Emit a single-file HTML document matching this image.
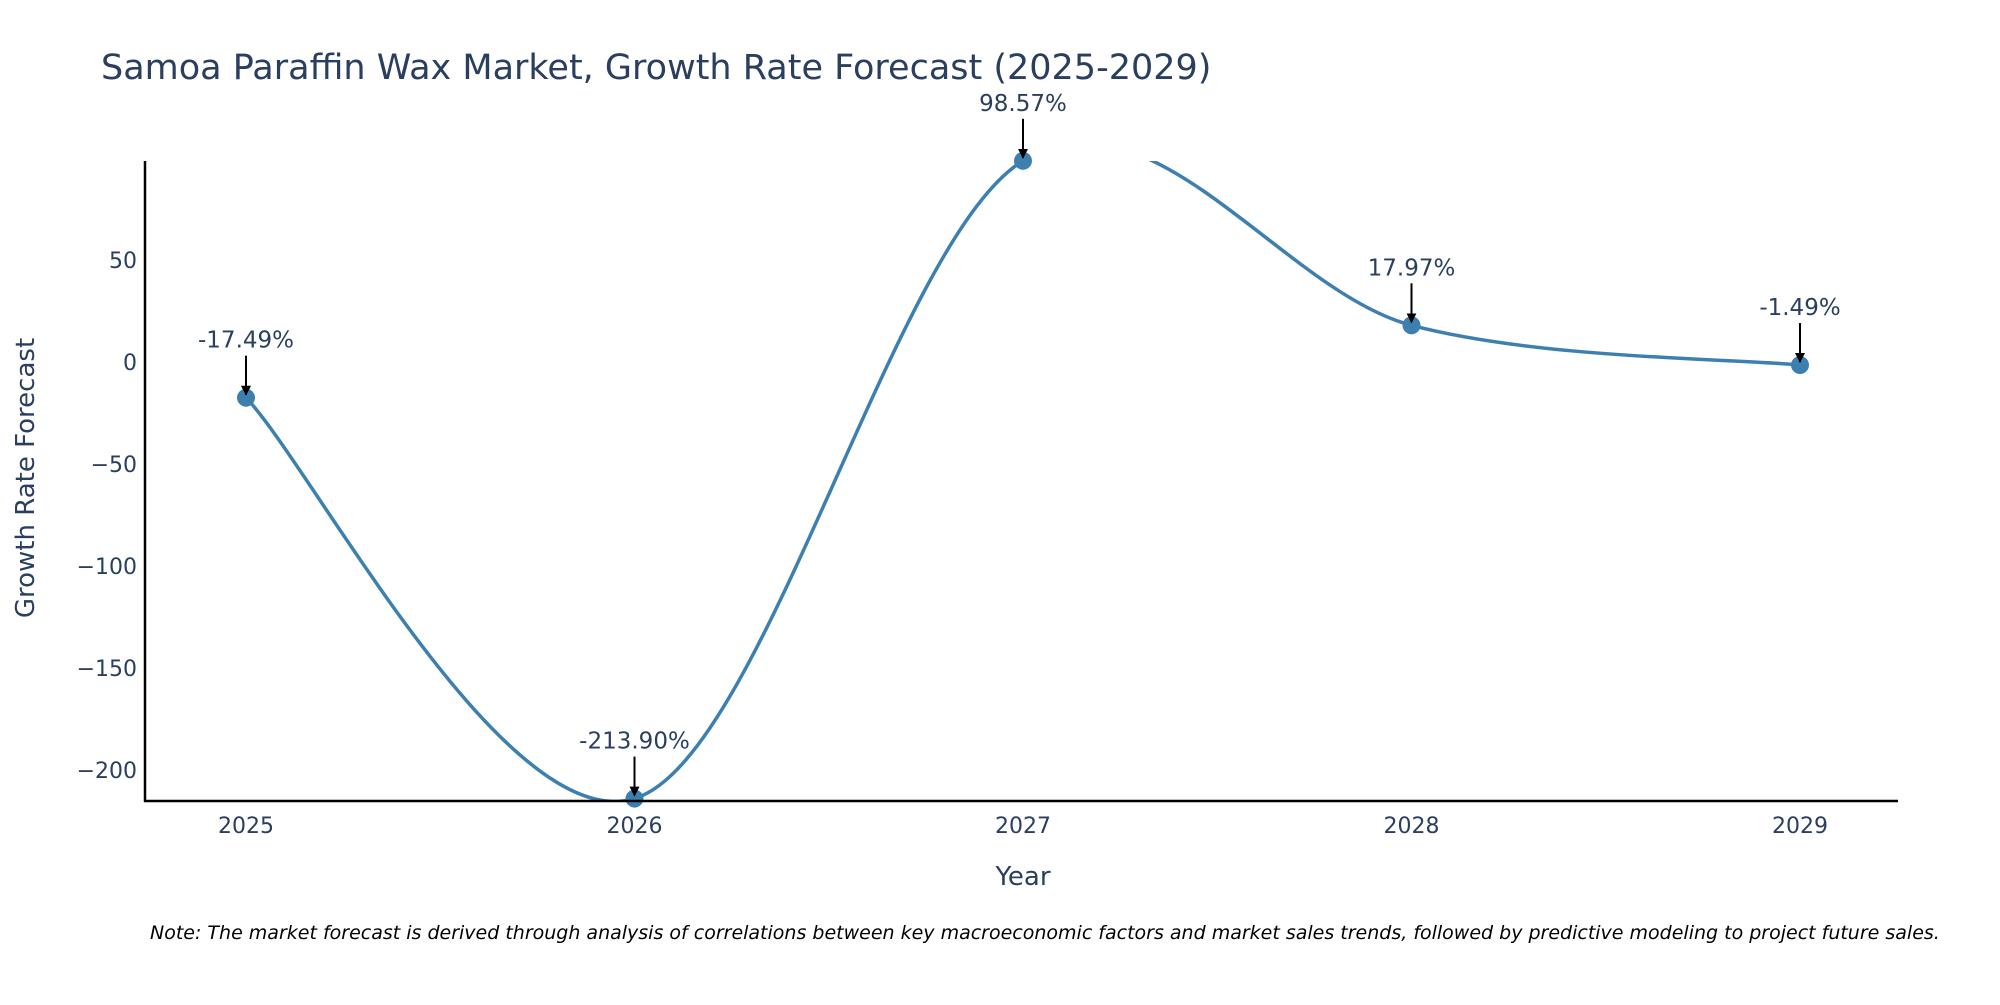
<!DOCTYPE html>
<html><head><meta charset="utf-8"><style>
body{margin:0;background:#fff;}
svg text{font-family:"DejaVu Sans","Liberation Sans",sans-serif;}
</style></head><body>
<svg id="chart" width="2000" height="1000" xmlns="http://www.w3.org/2000/svg">
<defs>
<clipPath id="plotclip"><rect x="144" y="161" width="1754" height="640"/></clipPath>
<marker id="arrowhead" viewBox="0 0 10 10" refX="9" refY="5" markerWidth="5" markerHeight="5" orient="auto"><path d="M0,0 L10,5 L0,10 z" fill="#000"/></marker>
</defs>
<text x="101" y="79" font-size="35" fill="#2a3f5f">Samoa Paraffin Wax Market, Growth Rate Forecast (2025-2029)</text>
<g id="yticks"></g>
<g id="xticks"></g>
<g clip-path="url(#plotclip)"><path id="line" fill="none" stroke="#3d80b0" stroke-width="3.5"/></g>
<g id="marks"></g>
<line x1="145" y1="161" x2="145" y2="802" stroke="#000" stroke-width="2.5"/>
<line x1="144" y1="801" x2="1898" y2="801" stroke="#000" stroke-width="2.5"/>
<text x="1023" y="885" font-size="26" fill="#2a3f5f" text-anchor="middle">Year</text>
<text transform="translate(34,478) rotate(-90)" font-size="26" fill="#2a3f5f" text-anchor="middle">Growth Rate Forecast</text>
<text x="150" y="939" font-size="19" font-style="italic" fill="#000">Note: The market forecast is derived through analysis of correlations between key macroeconomic factors and market sales trends, followed by predictive modeling to project future sales.</text>
</svg>
<script>
const years=[2025,2026,2027,2028,2029];
const growth=[-17.49,-213.90,98.57,17.97,-1.49];
const labels=["-17.49%","-213.90%","98.57%","17.97%","-1.49%"];
const yTicks=[50,0,-50,-100,-150,-200];
const yTickLabels=["50","0","\u221250","\u2212100","\u2212150","\u2212200"];
const NS="http://www.w3.org/2000/svg";
const X=v=>246+(v-2025)*(1800-246)/4;
const Y=v=>362-v*2.041;
function mk(tag,attrs,parent){const e=document.createElementNS(NS,tag);for(const k in attrs)e.setAttribute(k,attrs[k]);parent.appendChild(e);return e;}
const yg=document.getElementById('yticks');
yTicks.forEach((t,i)=>{const e=mk('text',{x:137,y:Y(t)+8,'font-size':22,fill:'#2a3f5f','text-anchor':'end'},yg);


e.textContent=yTickLabels[i];});
const xg=document.getElementById('xticks');
years.forEach(y=>{const e=mk('text',{x:X(y),y:833,'font-size':22,fill:'#2a3f5f','text-anchor':'middle'},xg);


e.textContent=y;});
const pts=years.map((y,i)=>[X(y),Y(growth[i])]);
let d=`M${pts[0][0]},${pts[0][1]}`;const s=0.5;
for(let i=0;i<pts.length-1;i++){const p0=pts[i-1]||pts[i],p1=pts[i],p2=pts[i+1],p3=pts[i+2]||pts[i+1];
const c1=[p1[0]+(p2[0]-p0[0])*s/3,p1[1]+(p2[1]-p0[1])*s/3];
const c2=[p2[0]-(p3[0]-p1[0])*s/3,p2[1]-(p3[1]-p1[1])*s/3];
d+=` C${c1[0]},${c1[1]} ${c2[0]},${c2[1]} ${p2[0]},${p2[1]}`;}
document.getElementById('line').setAttribute('d',d);
const mg=document.getElementById('marks');
pts.forEach((p,i)=>{
const c=mk('circle',{cx:p[0],cy:p[1],r:9,fill:'#3d80b0'},mg);


const a=mk('line',{x1:p[0],y1:p[1]-42,x2:p[0],y2:p[1]-3,stroke:'#000','stroke-width':2,'marker-end':'url(#arrowhead)'},mg);


const t=mk('text',{x:p[0],y:p[1]-50,'font-size':23,fill:'#2a3f5f','text-anchor':'middle'},mg);


t.textContent=labels[i];});
</script>
</body></html>
